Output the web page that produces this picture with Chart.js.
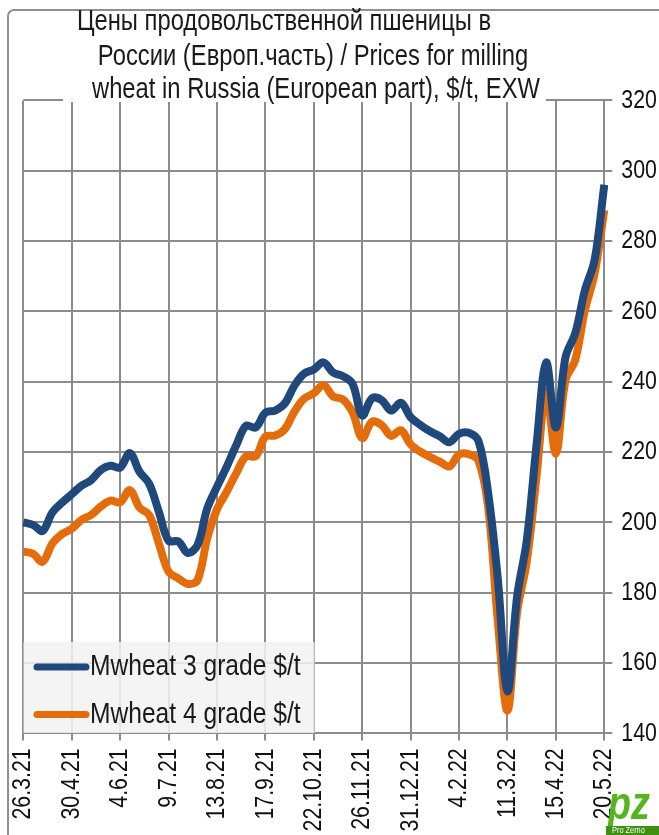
<!DOCTYPE html>
<html lang="ru">
<head>
  <meta charset="UTF-8" />
  <title>Цены продовольственной пшеницы</title>
  <script src="https://cdn.jsdelivr.net/npm/chart.js"></script>
  <style>
    html, body { margin: 0; padding: 0; background: #fff; }
    canvas { display: block; }
  </style>
</head>
<body>
  <canvas id="wheatChart" width="659" height="835"></canvas>

  <script>
    // weekly dates, 26.3.21 .. 20.5.22
    const dates = [
      '26.3.21', '2.4.21', '9.4.21', '16.4.21', '23.4.21', '30.4.21', '7.5.21', '14.5.21', '21.5.21', '28.5.21',
      '4.6.21', '11.6.21', '18.6.21', '25.6.21', '2.7.21', '9.7.21', '16.7.21', '23.7.21', '30.7.21', '6.8.21',
      '13.8.21', '20.8.21', '27.8.21', '3.9.21', '10.9.21', '17.9.21', '24.9.21', '1.10.21', '8.10.21', '15.10.21',
      '22.10.21', '29.10.21', '5.11.21', '12.11.21', '19.11.21', '26.11.21', '3.12.21', '10.12.21', '17.12.21', '24.12.21',
      '31.12.21', '7.1.22', '14.1.22', '21.1.22', '28.1.22', '4.2.22', '11.2.22', '18.2.22', '25.2.22', '4.3.22',
      '11.3.22', '18.3.22', '25.3.22', '1.4.22', '8.4.22', '15.4.22', '22.4.22', '29.4.22', '6.5.22', '13.5.22',
      '20.5.22'
    ];

    // dates printed under the axis
    const shownDates = [
      '26.3.21', '30.4.21', '4.6.21', '9.7.21', '13.8.21', '17.9.21', '22.10.21',
      '26.11.21', '31.12.21', '4.2.22', '11.3.22', '15.4.22', '20.5.22'
    ];

    const wheat3 = [
      200.0, 199.3, 197.6, 202.8, 205.6, 208.0, 210.4, 212.0, 214.9, 216.1,
      215.6, 219.7, 214.4, 211.0, 203.0, 194.8, 194.6, 191.3, 193.6, 204.0,
      210.1, 215.8, 222.0, 227.5, 227.0, 231.2, 231.8, 233.8, 238.9, 242.3,
      243.5, 245.5, 242.6, 241.6, 239.4, 230.4, 235.3, 234.8, 231.8, 234.0,
      229.9, 227.7, 225.9, 224.5, 222.8, 225.2, 225.5, 223.2, 208.5, 184.0,
      152.0, 179.0, 195.0, 222.0, 245.5, 227.0, 247.0, 253.8, 266.0, 274.6,
      296.0
    ];

    const wheat4 = [
      191.7, 191.1, 188.8, 194.0, 196.7, 198.2, 200.7, 202.1, 204.5, 206.2,
      205.7, 209.2, 204.2, 202.1, 194.0, 186.0, 184.1, 182.5, 183.6, 195.5,
      203.7, 208.7, 214.0, 218.8, 218.8, 224.4, 224.7, 226.5, 231.5, 235.2,
      236.7, 239.1, 235.8, 235.0, 231.3, 224.0, 228.6, 227.7, 224.6, 226.2,
      222.2, 220.1, 218.6, 217.3, 215.9, 219.3, 219.4, 217.6, 204.5, 172.0,
      146.5, 174.5, 189.0, 213.0, 237.2, 219.6, 240.5, 246.2, 260.4, 270.8,
      288.8
    ];

    const seriesNames = ['Mwheat 3 grade $/t', 'Mwheat 4 grade $/t'];
    const seriesColors = ['#1f497d', '#e46c0a'];

    const titleLines = [
      'Цены продовольственной пшеницы в',
      'России (Европ.часть) / Prices for milling',
      'wheat in Russia (European part), $/t, EXW'
    ];

    const yMin = 140, yMax = 320, yStep = 20;

    const FONT = '"Liberation Sans", Arial, sans-serif';
    const GRID = '#8c8c8c';
    const NARROW = 0.82; // no Arial Narrow installed: squeeze Arial-metric text instead

    const canvas = document.getElementById('wheatChart');
    const ctx = canvas.getContext('2d');
    const plainFillText = ctx.fillText;
    ctx.fillText = function (text, x, y) {
      const w = this.measureText(text).width * NARROW;
      return plainFillText.call(this, text, x, y, w);
    };

    // frame, title, legend box and logo are drawn by hand
    const decor = {
      id: 'decor',
      beforeDraw(chart) {
        const c = chart.ctx;
        c.save();
        c.strokeStyle = '#8f8f8f';
        c.lineWidth = 2;
        c.beginPath();
        c.roundRect(8, 10, 720, 900, 6);
        c.stroke();
        c.restore();
      },
      afterDraw(chart) {
        const c = chart.ctx;
        c.save();

        // title sits on top of the plot
        c.fillStyle = '#fff';
        c.fillRect(63, 12, 483, 90);
        c.fillStyle = '#1a1a1a';
        c.font = '29px ' + FONT;
        c.textAlign = 'center';
        c.textBaseline = 'middle';
        c.fillText(titleLines[0], 284, 22);
        c.fillText(titleLines[1], 313, 57);
        c.fillText(titleLines[2], 316, 90);

        // legend
        c.fillStyle = 'rgba(242,242,242,0.85)';
        c.fillRect(23.5, 642, 291, 91);
        c.font = '30px ' + FONT;
        c.textAlign = 'left';
        chart.data.datasets.forEach((ds, i) => {
          const y = 667 + i * 47.5;
          c.strokeStyle = ds.borderColor;
          c.lineWidth = 7;
          c.lineCap = 'round';
          c.beginPath();
          c.moveTo(37, y);
          c.lineTo(86, y);
          c.stroke();
          c.fillStyle = '#1a1a1a';
          c.fillText(ds.label, 90, y);
        });

        // Pro Zerno logo (rough)
        c.fillStyle = '#55b51e';
        c.font = 'italic bold 46px ' + FONT;
        c.fillText('pz', 608, 806);
        c.fillStyle = '#3f8f12';
        c.fillRect(606, 826, 53, 9);
        c.fillStyle = '#fff';
        c.font = '9px ' + FONT;
        c.fillText('Pro Zerno', 612, 831);

        c.restore();
      }
    };

    new Chart(ctx, {
      type: 'line',
      data: {
        labels: dates,
        datasets: [
          { label: seriesNames[0], data: wheat3, borderColor: seriesColors[0], backgroundColor: seriesColors[0] },
          { label: seriesNames[1], data: wheat4, borderColor: seriesColors[1], backgroundColor: seriesColors[1] }
        ]
      },
      options: {
        responsive: false,
        animation: false,
        layout: { padding: { left: 23.3, top: 100.4, right: 0, bottom: 0 } },
        elements: {
          point: { radius: 0 },
          line: { borderWidth: 8, tension: 0.35, borderJoinStyle: 'round' }
        },
        plugins: {
          legend: { display: false },
          title: { display: false },
          tooltip: { enabled: false }
        },
        scales: {
          x: {
            grid: { color: GRID, lineWidth: 2, tickLength: 7 },
            border: { color: GRID, width: 2 },
            ticks: {
              autoSkip: false,
              minRotation: 90,
              maxRotation: 90,
              padding: 8,
              color: '#111',
              font: { family: FONT, size: 26 },
              callback: function (v, i) {
                const d = dates[i];
                return shownDates.includes(d) ? d : null;
              }
            },
            afterFit(scale) { scale.height = 101.6; }
          },
          y: {
            position: 'right',
            min: yMin,
            max: yMax,
            grid: { color: GRID, lineWidth: 2, tickLength: 8 },
            border: { color: GRID, width: 2 },
            ticks: {
              stepSize: yStep,
              padding: 9,
              color: '#111',
              font: { family: FONT, size: 26 }
            },
            afterFit(scale) { scale.width = 54.7; }
          }
        }
      },
      plugins: [decor]
    });
  </script>
</body>
</html>
